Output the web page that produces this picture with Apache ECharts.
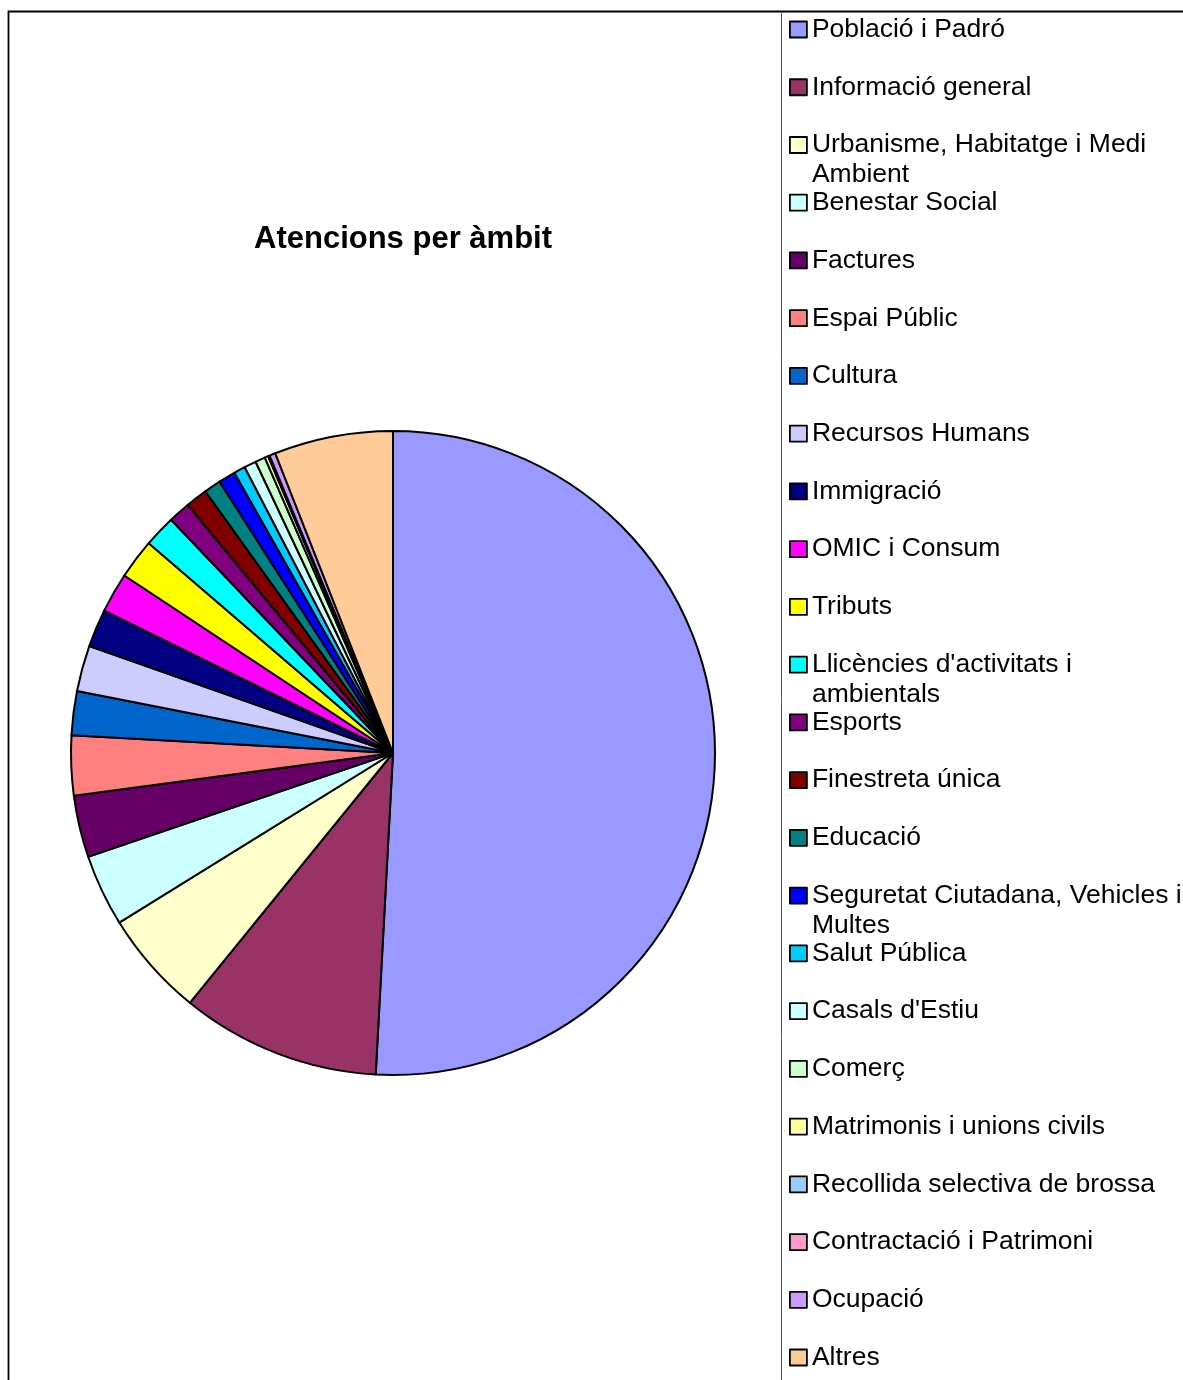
<!DOCTYPE html>
<html>
<head>
<meta charset="utf-8">
<script src="https://cdn.jsdelivr.net/npm/echarts@6/dist/echarts.min.js"></script>
<style>
  html, body { margin: 0; padding: 0; background: #fff; }
  #chart { width: 1183px; height: 1380px; }
</style>
</head>
<body>
<div id="chart"></div>
<script>
// Service areas (in legend order) and their share of attentions (%)
const categories = [
  'Població i Padró',
  'Informació general',
  'Urbanisme, Habitatge i Medi Ambient',
  'Benestar Social',
  'Factures',
  'Espai Públic',
  'Cultura',
  'Recursos Humans',
  'Immigració',
  'OMIC i Consum',
  'Tributs',
  "Llicències d'activitats i ambientals",
  'Esports',
  'Finestreta única',
  'Educació',
  'Seguretat Ciutadana, Vehicles i Multes',
  'Salut Pública',
  "Casals d'Estiu",
  'Comerç',
  'Matrimonis i unions civils',
  'Recollida selectiva de brossa',
  'Contractació i Patrimoni',
  'Ocupació',
  'Altres'
];

const shares = [
  50.8, 10.0, 5.3, 3.6, 3.1, 3.0, 2.2, 2.3, 1.9, 2.0, 2.0, 1.6,
  1.1, 1.1, 0.85, 0.85, 0.58, 0.6, 0.5, 0.18, 0.04, 0.04, 0.3, 5.95
];

// Legend text as wrapped inside the legend box
const legendLines = {
  'Urbanisme, Habitatge i Medi Ambient': ['Urbanisme, Habitatge i Medi', 'Ambient'],
  "Llicències d'activitats i ambientals": ["Llicències d'activitats i", 'ambientals'],
  'Seguretat Ciutadana, Vehicles i Multes': ['Seguretat Ciutadana, Vehicles i', 'Multes']
};

const palette = [
  '#9999FF', '#993366', '#FFFFCC', '#CCFFFF', '#660066', '#FF8080',
  '#0066CC', '#CCCCFF', '#000080', '#FF00FF', '#FFFF00', '#00FFFF',
  '#800080', '#800000', '#008080', '#0000FF', '#00CCFF', '#CCFFFF',
  '#CCFFCC', '#FFFF99', '#99CCFF', '#FF99CC', '#CC99FF', '#FFCC99'
];

const chart = echarts.init(document.getElementById('chart'), null, { renderer: 'canvas' });

const FONT = '"Liberation Sans", Arial, sans-serif';
const firstRowY = 29.5;
const rowStep = 57.74;

// One legend block per entry so every row keeps a fixed pitch.
// Wrapped labels get an empty leading line, so the marker (which is
// centred on the text block) lines up with the first line of text.
const legends = categories.map((name, i) => {
  const cy = firstRowY + i * rowStep;
  const wrapped = !!legendLines[name];
  return {
    data: [name],
    orient: 'vertical',
    left: 789,
    top: wrapped ? cy - 45 : cy - 15,
    padding: 0,
    itemWidth: 17,
    itemHeight: 16,
    itemGap: 0,
    icon: 'rect',
    selectedMode: false,
    itemStyle: { borderColor: '#000', borderWidth: 1.8 },
    formatter: n => legendLines[n] ? '\n' + legendLines[n].join('\n') : n,
    textStyle: {
      fontFamily: FONT,
      fontSize: 26.5,
      color: '#000',
      lineHeight: 30
    }
  };
});

chart.setOption({
  animation: false,
  backgroundColor: '#fff',
  color: palette,
  title: {
    text: 'Atencions per àmbit',
    left: 398,
    top: 219,
    textAlign: 'center',
    textStyle: { fontFamily: FONT, fontSize: 31, fontWeight: 'bold', color: '#000' }
  },
  legend: legends,
  graphic: [
    {
      type: 'rect',
      silent: true,
      shape: { x: 8.5, y: 11.5, width: 1300, height: 1500 },
      style: { fill: null, stroke: '#000', lineWidth: 1.8 }
    },
    {
      type: 'line',
      silent: true,
      shape: { x1: 781.5, y1: 11.5, x2: 781.5, y2: 1400 },
      style: { stroke: '#555', lineWidth: 1 }
    }
  ],
  series: [{
    type: 'pie',
    center: [393, 753],
    radius: 322,
    startAngle: 90,
    clockwise: true,
    label: { show: false },
    labelLine: { show: false },
    emphasis: { disabled: true },
    itemStyle: { borderColor: '#000', borderWidth: 2 },
    data: categories.map((name, i) => ({ name, value: shares[i] }))
  }]
});
</script>
</body>
</html>
